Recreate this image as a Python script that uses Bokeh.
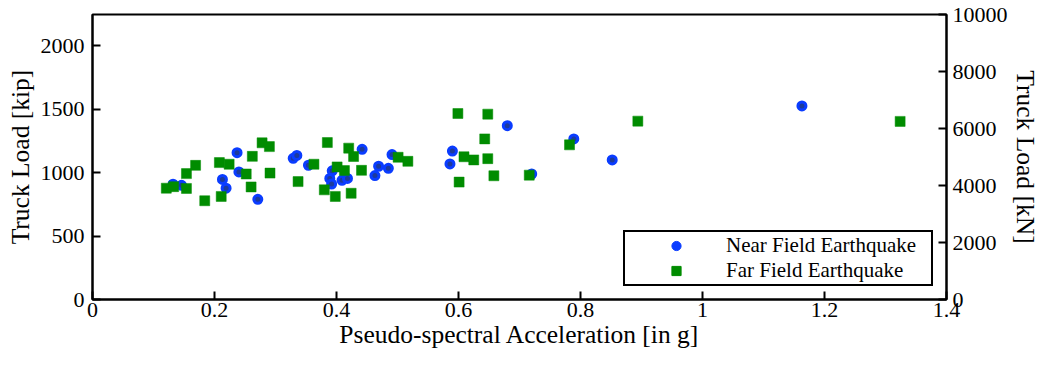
from bokeh.plotting import figure
from bokeh.models import LinearAxis, Range1d, FixedTicker, Legend, LegendItem
from bokeh.embed import file_html
from bokeh.resources import INLINE

# ---- data (x: pseudo-spectral acceleration [g], y: truck load [kip]) ----
near_x = [0.132, 0.146, 0.213, 0.219, 0.237, 0.240, 0.271, 0.329, 0.335, 0.354,
          0.389, 0.392, 0.393, 0.409, 0.418, 0.442, 0.463, 0.469, 0.485, 0.491,
          0.586, 0.590, 0.680, 0.720, 0.789, 0.852, 1.163]
near_y = [910, 901, 947, 878, 1158, 1006, 790, 1114, 1136, 1059,
          955, 911, 1015, 940, 955, 1185, 978, 1051, 1035, 1143,
          1069, 1171, 1371, 990, 1267, 1101, 1527]

far_x = [0.121, 0.133, 0.154, 0.154, 0.169, 0.184, 0.208, 0.211, 0.224, 0.252,
         0.260, 0.262, 0.278, 0.290, 0.291, 0.337, 0.363, 0.380, 0.385, 0.398,
         0.401, 0.413, 0.420, 0.424, 0.428, 0.441, 0.501, 0.517, 0.599, 0.601,
         0.609, 0.625, 0.643, 0.648, 0.648, 0.658, 0.716, 0.782, 0.894, 1.324]
far_y = [878, 890, 876, 993, 1058, 779, 1080, 813, 1067, 990,
         888, 1129, 1236, 1206, 997, 930, 1067, 865, 1238, 813,
         1046, 1017, 1194, 838, 1128, 1019, 1122, 1090, 1467, 926,
         1126, 1101, 1267, 1462, 1111, 976, 981, 1220, 1407, 1405]

x_ticks = [0, 0.2, 0.4, 0.6, 0.8, 1.0, 1.2, 1.4]
x_tick_labels = ["0", "0.2", "0.4", "0.6", "0.8", "1", "1.2", "1.4"]
kip_ticks = [0, 500, 1000, 1500, 2000]
kn_ticks = [0, 2000, 4000, 6000, 8000, 10000]
KN_PER_KIP = 4.44822
KN_MAX = 10000
X_MAX = 1.4

FONT = "Liberation Serif"
BLUE_EDGE = "#0a3cff"
BLUE_FILL = "#1c3a9c"
GREEN = "#008c00"
NAN = float("nan")

p = figure(width=1042, height=357,
           x_range=Range1d(0, X_MAX), y_range=Range1d(0, KN_MAX / KN_PER_KIP),
           output_backend="svg", toolbar_location=None,
           min_border_left=92, min_border_top=14, min_border_right=94, min_border_bottom=58)
p.extra_y_ranges = {"kn": Range1d(0, KN_MAX)}

p.xgrid.visible = False
p.ygrid.visible = False
p.outline_line_color = "black"
p.outline_line_width = 2
p.outline_line_alpha = 1.0
p.background_fill_color = "white"
p.border_fill_color = "white"

p.scatter(near_x, near_y, marker="circle", size=8, fill_color=BLUE_FILL,
          line_color=BLUE_EDGE, line_width=3)
p.scatter(far_x, far_y, marker="square", size=10, fill_color=GREEN,
          line_color=GREEN, line_width=0.5)

# legend-only renderers (nothing visible in the plot) carrying the legend's own marker sizes
leg_near = p.scatter([NAN], [NAN], marker="circle", size=10, fill_color=BLUE_EDGE, line_color=BLUE_EDGE)
leg_far = p.scatter([NAN], [NAN], marker="square", size=7, fill_color=GREEN, line_color=GREEN)


def style_axis(ax, label, ticks):
    ax.axis_label = label
    ax.ticker = FixedTicker(ticks=ticks)
    ax.axis_label_text_font = FONT
    ax.axis_label_text_font_size = "25.5px"
    ax.axis_label_text_font_style = "normal"
    ax.axis_label_text_color = "black"
    ax.axis_label_standoff = 3
    ax.major_label_text_font = FONT
    ax.major_label_text_font_size = "22px"
    ax.major_label_text_color = "black"
    ax.major_label_standoff = 8
    ax.major_tick_in = 8
    ax.major_tick_out = 0
    ax.major_tick_line_width = 2
    ax.major_tick_line_color = "black"
    ax.minor_tick_line_color = None
    ax.axis_line_width = 2
    ax.axis_line_color = "black"


style_axis(p.xaxis[0], "Pseudo-spectral Acceleration [in g]", x_ticks)
p.xaxis[0].major_label_overrides = {t: s for t, s in zip(x_ticks, x_tick_labels)}
p.xaxis[0].major_label_standoff = 3
p.xaxis[0].axis_label_standoff = 0
style_axis(p.yaxis[0], "Truck Load [kip]", kip_ticks)

right = LinearAxis(y_range_name="kn")
style_axis(right, "Truck Load [kN]", kn_ticks)
right.major_label_standoff = 6
right.axis_label_standoff = 0
p.add_layout(right, "right")

legend = Legend(items=[LegendItem(label="Near Field Earthquake", renderers=[leg_near]),
                       LegendItem(label="Far Field Earthquake", renderers=[leg_far])],
                location="bottom_right",
                margin=13, padding=1, spacing=0,
                glyph_width=100, glyph_height=23, label_height=23, label_width=204,
                label_standoff=0,
                label_text_font=FONT, label_text_font_size="21px", label_text_color="black",
                border_line_color="black", border_line_width=2, border_line_alpha=1.0,
                background_fill_color="white", background_fill_alpha=1.0)
p.add_layout(legend)

open("out.html", "w").write(file_html(p, INLINE))
